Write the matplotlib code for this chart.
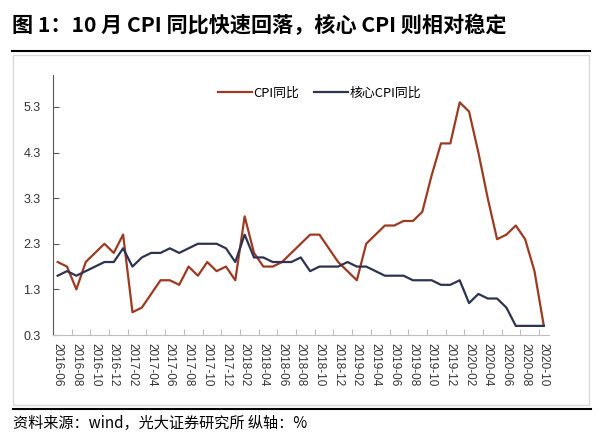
import numpy as np
import pandas as pd
import matplotlib.pyplot as plt
from matplotlib.patches import Rectangle
from matplotlib.lines import Line2D

plt.rcParams['font.family'] = ['Noto Sans CJK SC', 'DejaVu Sans']

# monthly data, 2016-06 .. 2020-10
months = pd.date_range('2016-06-01', '2020-10-01', freq='MS').strftime('%Y-%m').tolist()

cpi = [1.9, 1.8, 1.3, 1.9, 2.1, 2.3, 2.1,
       2.5, 0.8, 0.9, 1.2, 1.5, 1.5, 1.4, 1.8, 1.6, 1.9, 1.7, 1.8,
       1.5, 2.9, 2.1, 1.8, 1.8, 1.9, 2.1, 2.3, 2.5, 2.5, 2.2, 1.9,
       1.7, 1.5, 2.3, 2.5, 2.7, 2.7, 2.8, 2.8, 3.0, 3.8, 4.5, 4.5,
       5.4, 5.2, 4.3, 3.3, 2.4, 2.5, 2.7, 2.4, 1.7, 0.5]

core = [1.6, 1.7, 1.6, 1.7, 1.8, 1.9, 1.9,
        2.2, 1.8, 2.0, 2.1, 2.1, 2.2, 2.1, 2.2, 2.3, 2.3, 2.3, 2.2,
        1.9, 2.5, 2.0, 2.0, 1.9, 1.9, 1.9, 2.0, 1.7, 1.8, 1.8, 1.8,
        1.9, 1.8, 1.8, 1.7, 1.6, 1.6, 1.6, 1.5, 1.5, 1.5, 1.4, 1.4,
        1.5, 1.0, 1.2, 1.1, 1.1, 0.9, 0.5, 0.5, 0.5, 0.5]

yticks = [0.3, 1.3, 2.3, 3.3, 4.3, 5.3]

cpi_color = '#9C3A22'
core_color = '#2E3350'

fig = plt.figure(figsize=(6.03, 4.45), dpi=100)

# frame, rules, title, footer
fig.patches.append(Rectangle((13 / 603, 1 - 405 / 445), 576 / 603, 350 / 445,
                             transform=fig.transFigure, fill=False,
                             edgecolor='#D9D9D9', lw=1.0))
fig.add_artist(Line2D([12 / 603, 590 / 603], [1 - 51 / 445] * 2,
                      transform=fig.transFigure, color='black', lw=1.5))
fig.add_artist(Line2D([13 / 603, 591 / 603], [1 - 409 / 445] * 2,
                      transform=fig.transFigure, color='black', lw=1.5))
fig.text(12 / 603, 1 - 25 / 445, '图 1：10 月 CPI 同比快速回落，核心 CPI 则相对稳定',
         fontsize=15.2, fontweight='bold', va='center', ha='left')
fig.text(13 / 603, 1 - 423 / 445, '资料来源：wind，光大证券研究所 纵轴：%',
         fontsize=10.9, va='center', ha='left')

ax = fig.add_axes([53 / 603, 1 - 335 / 445, 495.5 / 603, 260 / 445])
x = np.arange(len(months))
ax.plot(x, cpi, color=cpi_color, lw=1.6, label='CPI同比')
ax.plot(x, core, color=core_color, lw=1.6, label='核心CPI同比')

ax.set_xlim(-0.5, len(months) - 0.5)
ax.set_ylim(0.3, 6.0)

ax.set_yticks(yticks)
ax.set_yticklabels([f'{v:.1f}' for v in yticks], family='Liberation Sans', fontsize=9)
ax.tick_params(axis='y', direction='in', length=4, color='#595959', pad=9,
               labelcolor='#333333')

ax.set_xticks(np.arange(-0.5, len(months) - 1, 2))
ax.set_xticklabels([])
ax.set_xticks(x[::2], minor=True)
ax.set_xticklabels(months[::2], minor=True, rotation=270,
                   family='Liberation Sans', fontsize=8.5, color='#333333')
ax.tick_params(axis='x', which='major', direction='in', length=4, color='#BFBFBF')
ax.tick_params(axis='x', which='minor', length=0, pad=6)

for s in ['top', 'right']:
    ax.spines[s].set_visible(False)
ax.spines['left'].set_color('#595959')
ax.spines['bottom'].set_color('#BFBFBF')

ax.legend(loc='center', bbox_to_anchor=(0.53, 1 - 93 / 445),
          bbox_transform=fig.transFigure, ncol=2, frameon=False,
          fontsize=9.3, handlelength=2.6, handletextpad=0.1, columnspacing=1.2)

fig.savefig('out.png', dpi=100)
